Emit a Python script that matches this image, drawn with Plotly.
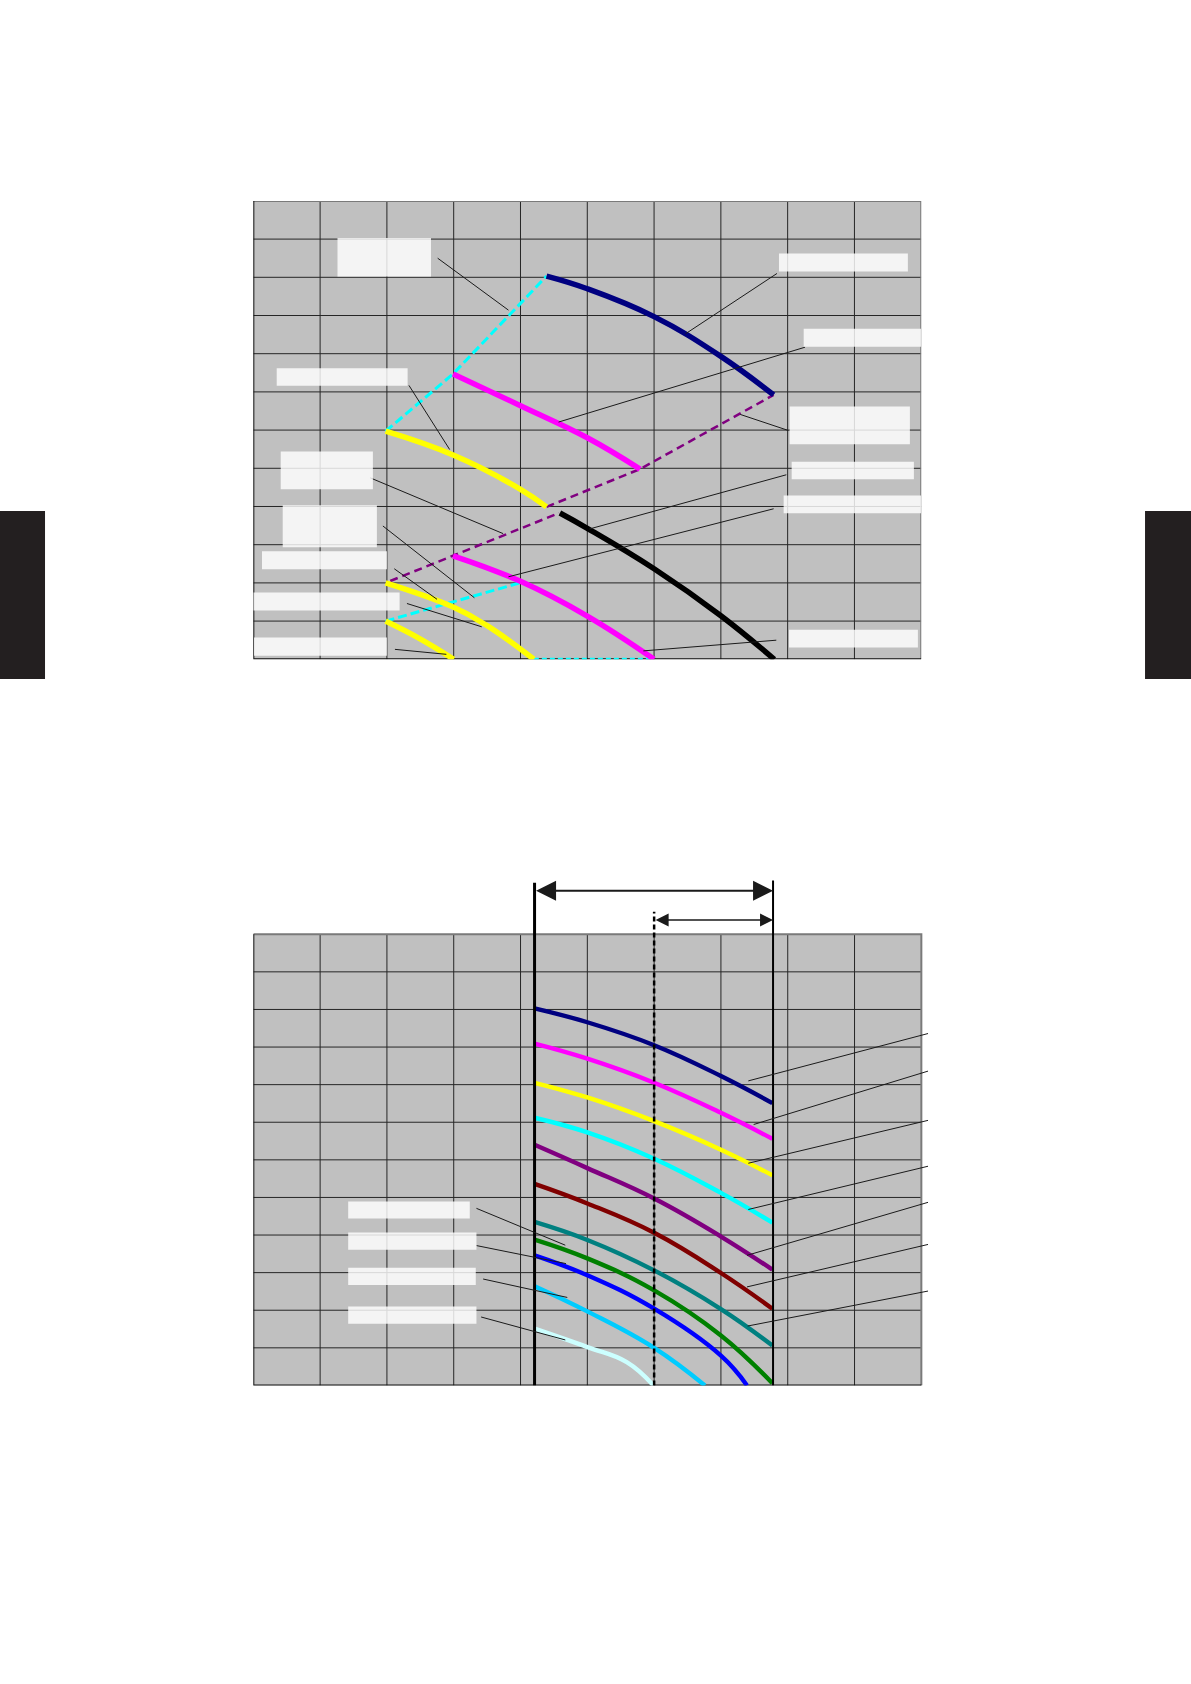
import plotly.graph_objects as go

# ---------------- grid ticks (both charts) ----------------
X_TICKS = list(range(0, 11))
Y_TICKS = list(range(0, 13))

# ---------------- top chart curves ----------------
top_navy_x = [4.39, 5.0, 6.0, 7.0, 7.79]
top_navy_y = [10.03, 9.70, 8.97, 7.93, 6.92]
top_magenta_hi_x = [2.99, 4.0, 5.0, 5.79]
top_magenta_hi_y = [7.47, 6.64, 5.80, 4.98]
top_yellow_hi_x = [1.98, 3.0, 4.0, 4.39]
top_yellow_hi_y = [5.97, 5.34, 4.45, 3.99]
top_cyan_hi_x = [1.98, 2.99, 4.39]
top_cyan_hi_y = [5.97, 7.47, 10.03]
top_purple_hi_x = [4.39, 5.79, 7.79]
top_purple_hi_y = [3.99, 4.98, 6.92]
top_purple_lo_x = [2.05, 2.99, 4.58]
top_purple_lo_y = [2.05, 2.71, 3.83]
top_black_x = [4.59, 5.0, 6.0, 7.0, 7.8]
top_black_y = [3.83, 3.43, 2.37, 1.14, 0.0]
top_magenta_lo_x = [2.99, 4.0, 5.0, 6.0]
top_magenta_lo_y = [2.71, 2.04, 1.13, 0.0]
top_yellow_mid_x = [1.98, 3.0, 3.5, 4.2]
top_yellow_mid_y = [2.0, 1.36, 0.88, 0.0]
top_yellow_lo_x = [1.98, 2.49, 3.0]
top_yellow_lo_y = [1.0, 0.54, 0.0]
top_cyan_lo_x = [1.98, 3.99]
top_cyan_lo_y = [1.0, 2.0]
top_cyan_base_x = [4.2, 6.0]
top_cyan_base_y = [0.0, 0.0]

# top chart label boxes (x0, x1, y0, y1)
top_box_x0 = [1.26, 7.87, 8.24, 0.35, 8.03, 0.41, 8.06, 7.94, 0.44, 0.13, 0.00, 8.02, 0.01]
top_box_x1 = [2.66, 9.80, 10.0, 2.31, 9.83, 1.79, 9.89, 10.0, 1.85, 2.00, 2.19, 9.95, 2.00]
top_box_y0 = [10.02, 10.15, 8.18, 7.16, 5.63, 4.45, 4.71, 3.82, 2.93, 2.36, 1.28, 0.31, 0.09]
top_box_y1 = [11.03, 10.62, 8.65, 7.62, 6.62, 5.44, 5.17, 4.29, 4.03, 2.83, 1.75, 0.77, 0.57]

# top chart leader lines
top_lead_x0 = [2.76, 7.84, 8.26, 2.33, 8.01, 1.75, 7.98, 7.79, 1.94, 2.11, 2.30, 7.83, 2.12]
top_lead_y0 = [10.50, 10.10, 8.17, 7.17, 5.99, 4.75, 4.83, 3.94, 3.49, 2.37, 1.46, 0.50, 0.26]
top_lead_x1 = [3.82, 6.47, 4.57, 2.94, 7.29, 3.74, 5.03, 3.82, 3.31, 2.75, 3.42, 5.84, 2.89]
top_lead_y1 = [9.14, 8.52, 6.21, 5.49, 6.41, 3.29, 3.41, 2.16, 1.61, 1.57, 0.85, 0.22, 0.13]

# ---------------- bottom chart curves ----------------
bot_x = [4.21, 5.0, 6.0, 7.0, 7.77]
bot_navy_y = [10.03, 9.66, 9.05, 8.23, 7.51]
bot_magenta_y = [9.09, 8.69, 8.05, 7.25, 6.56]
bot_yellow_y = [8.05, 7.66, 7.03, 6.27, 5.59]
bot_cyan_y = [7.12, 6.73, 6.03, 5.12, 4.33]
bot_purple_y = [6.40, 5.78, 4.97, 3.96, 3.08]
bot_darkred_y = [5.36, 4.84, 4.06, 2.99, 2.04]
bot_teal_y = [4.35, 3.87, 3.06, 2.03, 1.06]
bot_green_y = [3.88, 3.38, 2.53, 1.33, 0.06]
bot_blue_x = [4.21, 5.0, 6.0, 7.0, 7.39]
bot_blue_y = [3.46, 2.93, 2.04, 0.79, 0.0]
bot_lightblue_x = [4.21, 5.0, 6.0, 6.76]
bot_lightblue_y = [2.64, 1.97, 1.00, 0.0]
bot_pale_x = [4.21, 5.0, 5.59, 5.99]
bot_pale_y = [1.51, 1.02, 0.62, 0.0]

# bottom chart range markers
bot_vline_x = [4.21, 7.78, 6.0]
bot_vline_top = [13.37, 13.43, 12.6]
bot_arrow_y = [13.16, 12.38]
bot_arrow_from = [4.21, 6.0]
bot_arrow_to = [7.78, 7.78]

# bottom chart label boxes
bot_box_x0 = [1.42, 1.42, 1.42, 1.42]
bot_box_x1 = [3.24, 3.34, 3.33, 3.34]
bot_box_y0 = [4.44, 3.61, 2.67, 1.64]
bot_box_y1 = [4.89, 4.07, 3.13, 2.10]

# bottom chart leader lines
bot_lead_x0 = [3.34, 3.34, 3.44, 3.41, 10.10, 10.10, 10.10, 10.10, 10.10, 10.10, 10.10]
bot_lead_y0 = [4.71, 3.72, 2.83, 1.82, 9.36, 8.36, 7.05, 5.83, 4.87, 3.75, 2.51]
bot_lead_x1 = [4.67, 4.68, 4.70, 4.67, 7.41, 7.49, 7.41, 7.41, 7.39, 7.39, 7.40]
bot_lead_y1 = [3.73, 3.24, 2.34, 1.21, 8.10, 6.94, 5.91, 4.68, 3.46, 2.62, 1.58]

fig = go.Figure()


def add_line(x, y, color, width, sub=1, dash='solid', shape='linear'):
    fig.add_trace(go.Scatter(
        x=x, y=y, mode='lines',
        line=dict(color=color, width=width, dash=dash, shape=shape, smoothing=1.2),
        xaxis='x' if sub == 1 else 'x2', yaxis='y' if sub == 1 else 'y2',
        hoverinfo='skip', showlegend=False))


def add_grid(sub):
    gx, gy = [], []
    for v in X_TICKS[1:-1]:
        gx += [v, v, None]
        gy += [Y_TICKS[0], Y_TICKS[-1], None]
    for v in Y_TICKS[1:-1]:
        gx += [X_TICKS[0], X_TICKS[-1], None]
        gy += [v, v, None]
    add_line(gx, gy, '#262626', 1, sub)
    add_line([X_TICKS[0], X_TICKS[-1], X_TICKS[-1]], [Y_TICKS[-1], Y_TICKS[-1], Y_TICKS[0]], '#7a7a7a', 2, sub)
    add_line([X_TICKS[0], X_TICKS[0], X_TICKS[-1]], [Y_TICKS[-1], Y_TICKS[0], Y_TICKS[0]], '#111111', 2, sub)


def add_segments(x0, y0, x1, y1, sub):
    sx, sy = [], []
    for a, b, c, d in zip(x0, y0, x1, y1):
        sx += [a, c, None]
        sy += [b, d, None]
    add_line(sx, sy, '#1a1a1a', 1, sub)


shapes = []
for sub, xr, yr in ((1, 'x', 'y'), (2, 'x2', 'y2')):
    shapes.append(dict(type='rect', xref=xr, yref=yr, x0=X_TICKS[0], x1=X_TICKS[-1],
                       y0=Y_TICKS[0], y1=Y_TICKS[-1], fillcolor='#c0c0c0',
                       line=dict(width=0), layer='below'))

# ---------- top chart ----------
TOP_W = 5.5
add_grid(1)
add_line(top_cyan_hi_x, top_cyan_hi_y, '#00ffff', 3, 1, dash='9px,4px')
add_line(top_purple_hi_x, top_purple_hi_y, '#800080', 2.5, 1, dash='8px,5px')
add_line(top_purple_lo_x, top_purple_lo_y, '#800080', 2.5, 1, dash='8px,5px')
add_line(top_cyan_lo_x, top_cyan_lo_y, '#00ffff', 3, 1, dash='9px,4px')
add_line(top_cyan_base_x, top_cyan_base_y, '#00ffff', 3, 1, dash='5px,3px')
add_line(top_navy_x, top_navy_y, '#000080', TOP_W, 1, shape='spline')
add_line(top_magenta_hi_x, top_magenta_hi_y, '#ff00ff', TOP_W, 1, shape='spline')
add_line(top_yellow_hi_x, top_yellow_hi_y, '#ffff00', TOP_W, 1, shape='spline')
add_line(top_black_x, top_black_y, '#000000', TOP_W, 1, shape='spline')
add_line(top_magenta_lo_x, top_magenta_lo_y, '#ff00ff', TOP_W, 1, shape='spline')
add_line(top_yellow_mid_x, top_yellow_mid_y, '#ffff00', TOP_W, 1, shape='spline')
add_line(top_yellow_lo_x, top_yellow_lo_y, '#ffff00', TOP_W, 1, shape='spline')
add_segments(top_lead_x0, top_lead_y0, top_lead_x1, top_lead_y1, 1)
for a, b, c, d in zip(top_box_x0, top_box_x1, top_box_y0, top_box_y1):
    shapes.append(dict(type='rect', xref='x', yref='y', x0=a, x1=b, y0=c, y1=d,
                       fillcolor='rgba(255,255,255,0.82)', line=dict(width=0), layer='above'))

# ---------- bottom chart ----------
add_grid(2)
bot_series = [
    (bot_x, bot_navy_y, '#000080'),
    (bot_x, bot_magenta_y, '#ff00ff'),
    (bot_x, bot_yellow_y, '#ffff00'),
    (bot_x, bot_cyan_y, '#00ffff'),
    (bot_x, bot_purple_y, '#800080'),
    (bot_x, bot_darkred_y, '#800000'),
    (bot_x, bot_teal_y, '#008080'),
    (bot_x, bot_green_y, '#008000'),
    (bot_blue_x, bot_blue_y, '#0000ff'),
    (bot_lightblue_x, bot_lightblue_y, '#00ccff'),
    (bot_pale_x, bot_pale_y, '#ccffff'),
]
for xs, ys, col in bot_series:
    add_line(xs, ys, col, 4.4, 2, shape='spline')

add_line([bot_vline_x[0], bot_vline_x[0]], [0, bot_vline_top[0]], '#000000', 3, 2)
add_line([bot_vline_x[1], bot_vline_x[1]], [0, bot_vline_top[1]], '#000000', 2, 2)
add_line([bot_vline_x[2], bot_vline_x[2]], [0, bot_vline_top[2]], '#000000', 2.5, 2, dash='5px,3px')
add_segments(bot_lead_x0, bot_lead_y0, bot_lead_x1, bot_lead_y1, 2)
for a, b, c, d in zip(bot_box_x0, bot_box_x1, bot_box_y0, bot_box_y1):
    shapes.append(dict(type='rect', xref='x2', yref='y2', x0=a, x1=b, y0=c, y1=d,
                       fillcolor='rgba(255,255,255,0.82)', line=dict(width=0), layer='above'))

annotations = []
arrow_widths = [2, 1.3]
arrow_sizes = [2.0, 2.0]
for yv, x0, x1, w, s in zip(bot_arrow_y, bot_arrow_from, bot_arrow_to, arrow_widths, arrow_sizes):
    annotations.append(dict(
        x=x1, y=yv, ax=x0, ay=yv, xref='x2', yref='y2', axref='x2', ayref='y2',
        text='', showarrow=True, arrowhead=2, startarrowhead=2, arrowside='end+start',
        arrowwidth=w, arrowsize=s, startarrowsize=s, arrowcolor='#1a1a1a',
        standoff=0, startstandoff=0))

# side tabs
shapes.append(dict(type='rect', xref='paper', yref='paper', x0=0, x1=0.0378,
                   y0=0.5968, y1=0.6966, fillcolor='#231f20', line=dict(width=0)))
shapes.append(dict(type='rect', xref='paper', yref='paper', x0=0.9614, x1=1.0,
                   y0=0.5968, y1=0.6966, fillcolor='#231f20', line=dict(width=0)))

axis_common = dict(visible=False, showgrid=False, zeroline=False, fixedrange=True)
fig.update_layout(
    width=1191, height=1684,
    margin=dict(l=0, r=0, t=0, b=0),
    paper_bgcolor='white', plot_bgcolor='rgba(0,0,0,0)',
    showlegend=False,
    xaxis=dict(domain=[0.2127, 0.7735], range=[0, 10], **axis_common),
    yaxis=dict(domain=[0.6085, 0.8807], range=[0, 12], **axis_common),
    xaxis2=dict(domain=[0.2127, 0.7820], range=[0, 10.15], anchor='y2', **axis_common),
    yaxis2=dict(domain=[0.1773, 0.4787], range=[0, 13.5], anchor='x2', **axis_common),
    shapes=shapes, annotations=annotations,
)

fig.write_html("out.html", config={'displayModeBar': False},
               post_script="document.body.style.margin='0px';")
